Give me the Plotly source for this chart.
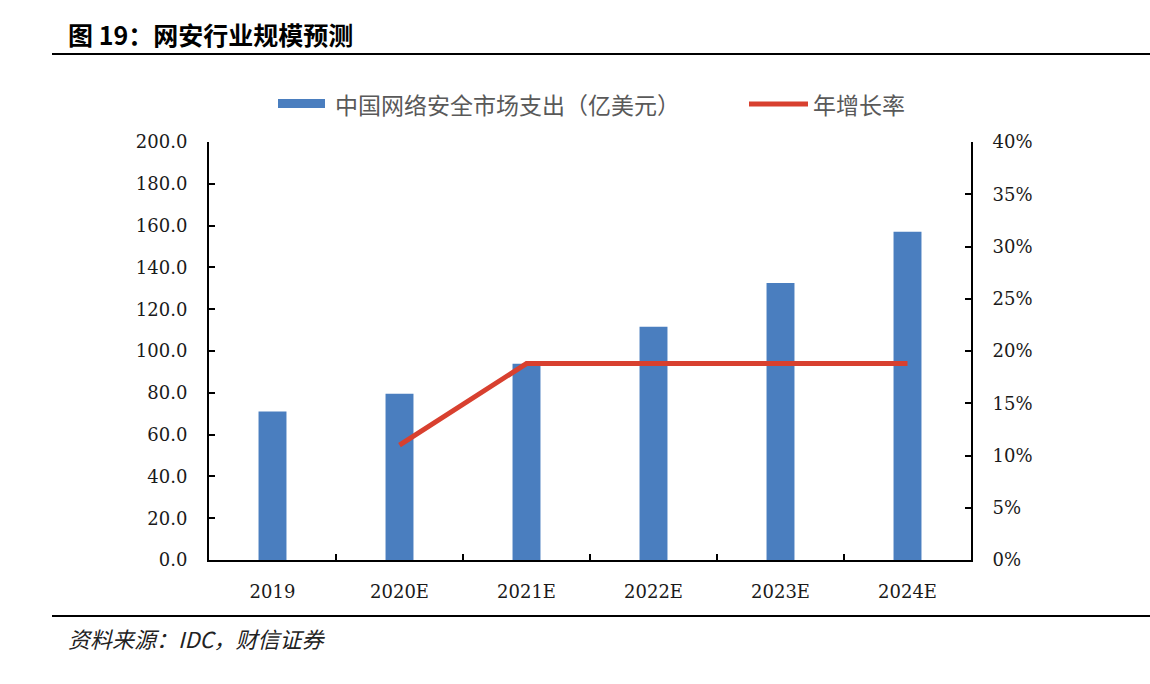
import plotly.graph_objects as go

categories = ["2019", "2020E", "2021E", "2022E", "2023E", "2024E"]
spending = [71.0, 79.5, 93.9, 111.6, 132.5, 157.0]
growth_years = ["2020E", "2021E", "2022E", "2023E", "2024E"]
growth = [0.110, 0.188, 0.188, 0.188, 0.188]
bar_name = "中国网络安全市场支出（亿美元）"
line_name = "年增长率"

W, H = 1150, 684
L, R, T, B = 209, 971, 142, 560

BAR_COLOR = "#4A7EBF"
LINE_COLOR = "#D8402F"

def px(x):
    return (x - L) / (R - L)

def py(y):
    return (B - y) / (B - T)

serif = "DejaVu Serif, Liberation Serif, serif"
cjk = "Noto Sans CJK SC"

fig = go.Figure()
fig.add_trace(go.Bar(
    x=categories, y=spending, name=bar_name,
    marker=dict(color=BAR_COLOR, line=dict(width=0)), yaxis="y", showlegend=False,
))
fig.add_trace(go.Scatter(
    x=growth_years, y=growth, name=line_name, mode="lines",
    line=dict(color=LINE_COLOR, width=5), yaxis="y2", showlegend=False,
))

tickfont = dict(family=serif, size=18, color="#1a1a1a")

fig.update_layout(
    width=W, height=H,
    margin=dict(l=L, r=W - R, t=T, b=H - B),
    paper_bgcolor="white", plot_bgcolor="white",
    bargap=0.78,
    showlegend=False,
    xaxis=dict(
        type="category", showline=True, linecolor="black", linewidth=2,
        ticks="inside", tickson="boundaries", ticklen=6, tickwidth=2, tickcolor="black",
        tickfont=tickfont, showgrid=False, zeroline=False, ticklabelstandoff=14,
    ),
    yaxis=dict(
        range=[0, 200], dtick=20, tickformat=".1f",
        showline=True, linecolor="black", linewidth=2,
        ticks="inside", ticklen=6, tickwidth=2, tickcolor="black",
        tickfont=tickfont, showgrid=False, zeroline=False, ticklabelstandoff=16,
    ),
    yaxis2=dict(
        range=[0, 0.4], dtick=0.05, tickformat=".0%", overlaying="y", side="right",
        showline=True, linecolor="black", linewidth=2,
        ticks="inside", ticklen=6, tickwidth=2, tickcolor="black",
        tickfont=tickfont, showgrid=False, zeroline=False, ticklabelstandoff=16,
    ),
    shapes=[
        dict(type="line", xref="paper", yref="paper", x0=px(52), x1=px(1150),
             y0=py(54), y1=py(54), line=dict(color="black", width=2)),
        dict(type="line", xref="paper", yref="paper", x0=px(52), x1=px(1150),
             y0=py(616), y1=py(616), line=dict(color="black", width=2)),
        # legend keys
        dict(type="rect", xref="paper", yref="paper", x0=px(278), x1=px(325),
             y0=py(108), y1=py(99), fillcolor=BAR_COLOR, line=dict(width=0)),
        dict(type="line", xref="paper", yref="paper", x0=px(749), x1=px(808),
             y0=py(104), y1=py(104), line=dict(color=LINE_COLOR, width=5)),
    ],
    annotations=[
        dict(text="<b>图 19：网安行业规模预测</b>", xref="paper", yref="paper",
             x=px(66), y=py(34), xanchor="left", yanchor="middle", showarrow=False,
             font=dict(family=cjk, size=25, color="black")),
        dict(text="<i>资料来源：IDC，财信证券</i>", xref="paper", yref="paper",
             x=px(66), y=py(638), xanchor="left", yanchor="middle", showarrow=False,
             font=dict(family=cjk, size=22, color="#222222")),
        dict(text=bar_name, xref="paper", yref="paper",
             x=px(333), y=py(104), xanchor="left", yanchor="middle", showarrow=False,
             font=dict(family=cjk, size=23, color="#595959")),
        dict(text=line_name, xref="paper", yref="paper",
             x=px(811), y=py(104), xanchor="left", yanchor="middle", showarrow=False,
             font=dict(family=cjk, size=23, color="#595959")),
    ],
)

fig.write_html("out.html", config={"displayModeBar": False},
               post_script="document.body.style.margin='0';")
